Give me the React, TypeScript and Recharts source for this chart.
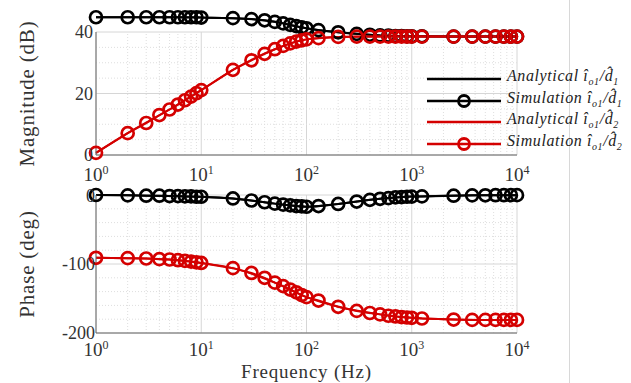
import React from 'react'
import { LineChart, Line, XAxis, YAxis, CartesianGrid, ReferenceLine, Legend } from 'recharts'

// simulation sample frequencies (Hz)
const simFreq = [
  1, 2, 3, 4, 5, 6, 7, 8, 9, 10,
  20, 30, 40, 50, 60, 70, 80, 90, 100,
  130, 200, 300, 400, 500, 600, 700, 800, 900, 1000,
  1250, 2500, 3750, 5000, 6250, 7500, 8750, 10000,
]
const simMag1 = [
  44.8, 44.8, 44.8, 44.8, 44.8, 44.8, 44.8, 44.8, 44.8, 44.7,
  44.5, 44.2, 43.8, 43.3, 42.8, 42.3, 41.9, 41.5, 41.2,
  40.6, 39.9, 39.4, 39.1, 38.9, 38.8, 38.7, 38.7, 38.6, 38.6,
  38.6, 38.5, 38.5, 38.5, 38.5, 38.5, 38.5, 38.5,
]
const simMag2 = [
  0.7, 7.1, 10.4, 13.0, 14.8, 16.4, 17.8, 19.0, 20.1, 21.1,
  27.7, 30.8, 32.9, 34.4, 35.5, 36.3, 36.9, 37.3, 37.6,
  38.0, 38.4, 38.5, 38.5, 38.5, 38.5, 38.5, 38.5, 38.5, 38.5,
  38.5, 38.5, 38.5, 38.5, 38.5, 38.5, 38.5, 38.5,
]
const simPh1 = [
  0, -0.5, -1, -1, -1.5, -1.5, -2, -2, -2.5, -2.5,
  -5, -8, -10.5, -12.5, -14, -15, -16, -16.5, -17,
  -16, -13, -9.5, -7, -5.5, -4.5, -3.5, -3, -2.5, -2.3,
  -2, -1, -0.5, -0.4, -0.3, -0.3, -0.2, -0.2,
]
const simPh2 = [
  -91, -91.5, -92, -93, -93.5, -94.5, -95.5, -96.5, -97.5, -98.5,
  -106, -113, -120, -127, -132, -137, -141, -145, -148,
  -153, -162, -168, -171, -173, -175, -176, -177, -177.5, -178,
  -179, -180.5, -181, -181, -181, -181, -181, -181,
]

// analytical curves
const anaFreq = [1, 2, 5, 10, 20, 50, 100, 200, 500, 1000, 2000, 5000, 10000]
const anaMag1 = [44.8, 44.8, 44.8, 44.7, 44.5, 43.3, 41.2, 39.9, 38.9, 38.6, 38.5, 38.5, 38.5]
const anaMag2 = [0.7, 7.1, 14.8, 21.1, 27.7, 34.4, 37.6, 38.4, 38.5, 38.5, 38.5, 38.5, 38.5]
const anaPh1 = [0, -0.5, -1.5, -2.5, -5, -12.5, -17, -13, -5.5, -2.3, -1.2, -0.4, -0.2]
const anaPh2 = [-91, -91.5, -93.5, -98.5, -106, -127, -148, -162, -173, -178, -180, -181, -181]

// axes
const decadeTicks = [1, 10, 100, 1000, 10000]
const minorFreq = [
  2, 3, 4, 5, 6, 7, 8, 9,
  20, 30, 40, 50, 60, 70, 80, 90,
  200, 300, 400, 500, 600, 700, 800, 900,
  2000, 3000, 4000, 5000, 6000, 7000, 8000, 9000,
]
const magTicks = [0, 20, 40]
const magMinor = [5, 10, 15, 25, 30, 35]
const phTicks = [-200, -100, 0]
const phMinor = [-180, -160, -140, -120, -80, -60, -40, -20]

const legendNames = ['Analytical', 'Simulation', 'Analytical', 'Simulation']
const legendSubs = ['1', '1', '2', '2']
const legendMarker = [false, true, false, true]
const legendColors = ['#000000', '#000000', '#d40000', '#d40000']

const FONT = 'Liberation Serif, Times New Roman, DejaVu Serif, serif'
const BLACK = '#000000'
const RED = '#d40000'
const GRID = '#d6d6d6'
const MINOR = '#dedede'
const AXIS = '#666666'

const simMagData = simFreq.map((f, i) => ({ f, a: simMag1[i], b: simMag2[i] }))
const simPhData = simFreq.map((f, i) => ({ f, a: simPh1[i], b: simPh2[i] }))
const anaMagData = anaFreq.map((f, i) => ({ f, a: anaMag1[i], b: anaMag2[i] }))
const anaPhData = anaFreq.map((f, i) => ({ f, a: anaPh1[i], b: anaPh2[i] }))

function DecadeTick({ x, y, payload, shift = 23 }: any) {
  const exp = Math.round(Math.log10(payload.value))
  return (
    <text x={x} y={y + shift} textAnchor="middle" style={{ fontFamily: FONT }} fontSize={19} fill="#333">
      10<tspan dy={-7} fontSize={12}>{exp}</tspan>
    </text>
  )
}

function BodeLegend() {
  return (
    <div style={{ fontFamily: FONT, fontStyle: 'italic', fontSize: 16, color: '#222', letterSpacing: 0.6 }}>
      {legendNames.map((name, i) => (
        <div key={i} style={{ display: 'flex', alignItems: 'center', height: 21.7 }}>
          <svg width={75} height={22} style={{ flex: 'none' }}>
            <line x1={0} x2={74} y1={11} y2={11} stroke={legendColors[i]} strokeWidth={2.5} />
            {legendMarker[i] && (
              <circle cx={37} cy={11} r={5.5} fill="none" stroke={legendColors[i]} strokeWidth={2.8} />
            )}
          </svg>
          <span style={{ marginLeft: 5, whiteSpace: 'nowrap', lineHeight: '22px' }}>
            {name} î
            <span style={{ fontSize: 10, verticalAlign: -4 }}>o1</span>
            /d̂
            <span style={{ fontSize: 10, verticalAlign: -4 }}>{legendSubs[i]}</span>
          </span>
        </div>
      ))}
    </div>
  )
}

const dotStyle = (color: string) => ({ r: 6, stroke: color, strokeWidth: 2.7, fill: 'none' })
const tickStyle = { fontSize: 18, fill: '#333', style: { fontFamily: FONT } }
const titleStyle = { fontSize: 21, fill: '#333', fontFamily: FONT, letterSpacing: 0.8 }

export default function App() {
  return (
    <div style={{ position: 'absolute', left: 0, top: 0, width: 631, height: 383, background: '#fff', overflow: 'hidden', fontFamily: FONT }}>
      <style>{'.recharts-surface [clip-path] { clip-path: none !important; } .recharts-text { font-family: Liberation Serif, Times New Roman, serif; }'}</style>
      <div style={{ position: 'absolute', left: 569, top: 0, width: 1, height: 383, background: '#d8d8d8' }} />

      <div style={{ position: 'absolute', left: 0, top: 0 }}>
        <LineChart width={631} height={185} margin={{ top: 32, right: 114, bottom: 0, left: 16 }}>
          <CartesianGrid stroke={GRID} />
          {minorFreq.map((v) => (
            <ReferenceLine key={'mx' + v} x={v} stroke={MINOR} strokeDasharray="1 2" />
          ))}
          {magMinor.map((v) => (
            <ReferenceLine key={'my' + v} y={v} stroke={MINOR} strokeDasharray="1 2" />
          ))}
          <XAxis
            dataKey="f"
            type="number"
            scale="log"
            domain={[1, 10000]}
            ticks={decadeTicks}
            tick={<DecadeTick shift={24} />}
            tickLine={false}
            tickSize={0}
            stroke={AXIS}
            height={30}
          />
          <YAxis
            type="number"
            domain={[0, 40]}
            ticks={magTicks}
            allowDataOverflow
            tickLine={false}
            tickSize={0}
            tickMargin={3}
            stroke={AXIS}
            width={80}
            tick={tickStyle}
            label={{
              value: 'Magnitude (dB)',
              angle: -90,
              position: 'insideLeft',
              offset: 11,
              style: { ...titleStyle, textAnchor: 'middle' },
            }}
          />
          <Legend
            layout="vertical"
            align="center"
            verticalAlign="middle"
            content={<BodeLegend />}
            wrapperStyle={{ left: 427, top: 68, width: 210 }}
          />
          <Line data={anaMagData} dataKey="a" name="Analytical" type="monotone" stroke={BLACK} strokeWidth={2} dot={false} activeDot={false} isAnimationActive={false} />
          <Line data={simMagData} dataKey="a" name="Simulation" type="linear" stroke={BLACK} strokeWidth={2} dot={dotStyle(BLACK)} activeDot={false} isAnimationActive={false} />
          <Line data={anaMagData} dataKey="b" name="Analytical" type="monotone" stroke={RED} strokeWidth={2} dot={false} activeDot={false} isAnimationActive={false} />
          <Line data={simMagData} dataKey="b" name="Simulation" type="linear" stroke={RED} strokeWidth={2} dot={dotStyle(RED)} activeDot={false} isAnimationActive={false} />
        </LineChart>
      </div>

      <div style={{ position: 'absolute', left: 0, top: 185 }}>
        <LineChart width={631} height={198} margin={{ top: 10, right: 114, bottom: 0, left: 16 }}>
          <CartesianGrid stroke={GRID} />
          {minorFreq.map((v) => (
            <ReferenceLine key={'px' + v} x={v} stroke={MINOR} strokeDasharray="1 2" />
          ))}
          {phMinor.map((v) => (
            <ReferenceLine key={'py' + v} y={v} stroke={MINOR} strokeDasharray="1 2" />
          ))}
          <XAxis
            dataKey="f"
            type="number"
            scale="log"
            domain={[1, 10000]}
            ticks={decadeTicks}
            tick={<DecadeTick shift={21} />}
            tickLine={false}
            tickSize={0}
            stroke={AXIS}
            height={50}
            label={{
              value: 'Frequency (Hz)',
              position: 'insideBottom',
              offset: 5,
              style: { ...titleStyle, fontSize: 19 },
            }}
          />
          <YAxis
            type="number"
            domain={[-200, 0]}
            ticks={phTicks}
            allowDataOverflow
            tickLine={false}
            tickSize={0}
            tickMargin={1}
            stroke={AXIS}
            width={80}
            tick={tickStyle}
            label={{
              value: 'Phase (deg)',
              angle: -90,
              position: 'insideLeft',
              offset: 11,
              style: { ...titleStyle, textAnchor: 'middle' },
            }}
          />
          <Line data={anaPhData} dataKey="a" name="Analytical" type="monotone" stroke={BLACK} strokeWidth={2} dot={false} activeDot={false} isAnimationActive={false} />
          <Line data={simPhData} dataKey="a" name="Simulation" type="linear" stroke={BLACK} strokeWidth={2} dot={dotStyle(BLACK)} activeDot={false} isAnimationActive={false} />
          <Line data={anaPhData} dataKey="b" name="Analytical" type="monotone" stroke={RED} strokeWidth={2} dot={false} activeDot={false} isAnimationActive={false} />
          <Line data={simPhData} dataKey="b" name="Simulation" type="linear" stroke={RED} strokeWidth={2} dot={dotStyle(RED)} activeDot={false} isAnimationActive={false} />
        </LineChart>
      </div>
    </div>
  )
}
